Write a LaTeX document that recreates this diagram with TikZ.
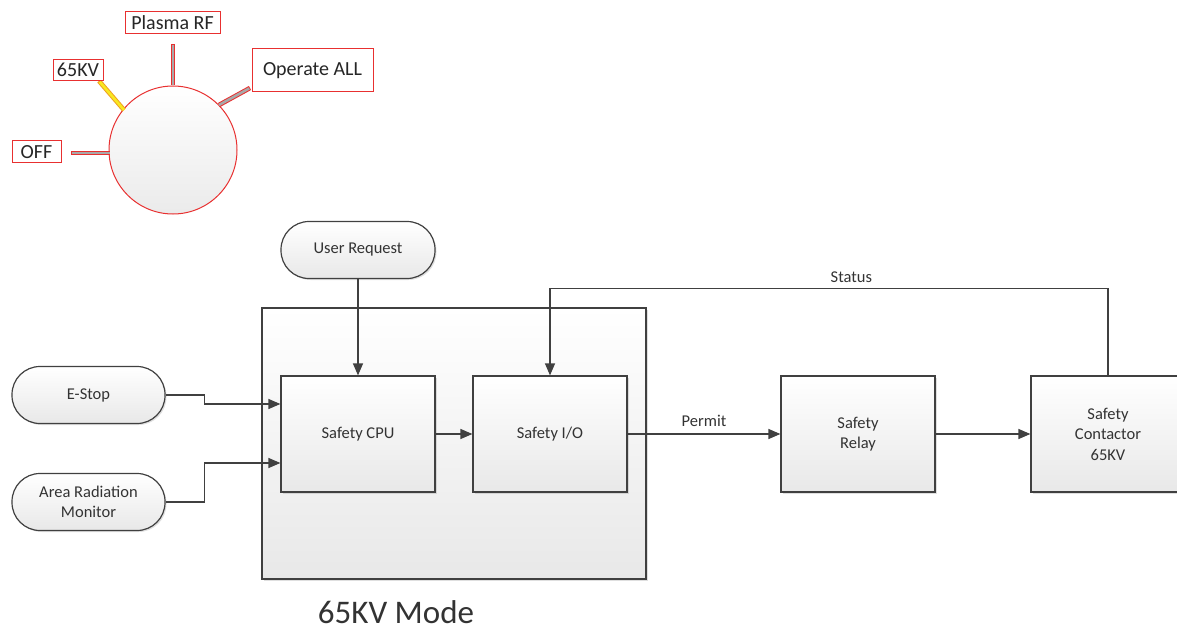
\documentclass[tikz,border=0pt]{standalone}
\usepackage{fontspec}
\setmainfont{Carlito}
\usetikzlibrary{arrows.meta,shadows}
\definecolor{ink}{HTML}{404040}
\definecolor{txt}{HTML}{333333}
\definecolor{knobred}{HTML}{E83030}
\definecolor{stickgray}{HTML}{A8A8A8}
\definecolor{stickorange}{HTML}{F0A020}
\definecolor{stickyellow}{HTML}{F8E820}
\tikzset{
  blk/.style={draw=ink, line width=1.2pt, top color=white, bottom color=black!9,
    drop shadow={shadow xshift=1.5pt, shadow yshift=-1.5pt, opacity=0.25},
    text=txt, align=center, font=\fontsize{16.5}{20.5}\selectfont, inner sep=0pt},
  term/.style={blk, rounded corners=28pt, minimum width=153pt, minimum height=57pt},
  sq/.style={blk, minimum width=154pt, minimum height=116pt},
  arr/.style={draw=ink, line width=1.2pt, -{Triangle[length=12pt,width=10pt]}},
  lbl/.style={text=txt, font=\fontsize{16.5}{19}\selectfont, inner sep=1pt},
  tag/.style={draw=knobred, line width=1pt, fill=white, text=black!85,
    font=\fontsize{20}{22}\selectfont, inner sep=0pt},
  stickout/.style={draw=knobred, line width=4.6pt},
  stickin/.style={draw=stickgray, line width=2.6pt},
}
\begin{document}
\begin{tikzpicture}[x=1pt,y=-1pt]
\useasboundingbox (0,0) rectangle (1177,631);
\clip (0,0) rectangle (1177,631);
% knob
\node[circle, draw=knobred, line width=1pt, top color=white, bottom color=black!8,
  minimum size=128pt, inner sep=0pt] (knob) at (173,150) {};
\draw[stickout] (173,44) -- (173,85);
\draw[stickin] (173,45) -- (173,85);
\draw[draw=stickorange, line width=4.6pt] (99,81) -- (124,110);
\draw[draw=stickyellow, line width=2.6pt] (99.7,81.8) -- (124,110);
\draw[stickout] (219,105) -- (250,88);
\draw[stickin] (219,105) -- (249.2,88.4);
\draw[stickout] (71,153) -- (110,153);
\draw[stickin] (72,153) -- (110,153);
\node[tag, minimum width=95pt, minimum height=22pt] (plasma) at (172.5,23) {Plasma RF};
\node[tag, minimum width=50pt, minimum height=21pt] (kv) at (78,70) {65KV};
\node[tag, minimum width=121pt, minimum height=43pt] (oper) at (312.5,70.5) {Operate ALL};
\node[tag, minimum width=49pt, minimum height=22pt] (off) at (36.5,152) {OFF};
% main block
\node[blk, minimum width=384pt, minimum height=271pt] (big) at (454,443.5) {};
\node[term, minimum width=154pt] (user) at (358,250) {User Request};
\node[term] (estop) at (88.5,395) {E-Stop};
\node[term] (arm) at (88.5,502) {Area Radiation\\Monitor};
\node[sq] (cpu) at (358,434) {Safety CPU};
\node[sq] (io) at (550,434) {Safety I/O};
\node[sq] (relay) at (858,434) {Safety\\Relay};
\node[sq] (cont) at (1108,434) {Safety\\Contactor\\65KV};
\node[text=txt, font=\fontsize{33}{36}\selectfont, inner sep=0pt] (mode) at (396,612) {65KV Mode};
% connectors
\draw[arr] (user) -- (cpu);
\draw[arr] (estop.east) -- ++(39,0) |- ([yshift=30pt]cpu.west);
\draw[arr] (arm.east) -- ++(39,0) |- ([yshift=-29pt]cpu.west);
\draw[arr] (cpu) -- (io);
\draw[arr] (io) -- node[lbl, above=6pt] {Permit} (relay);
\draw[arr] (relay) -- (cont);
\draw[arr] (cont.north) -- ++(0,-87) -| node[lbl, pos=0.23, above=4pt] {Status} (io.north);
\end{tikzpicture}
\end{document}
